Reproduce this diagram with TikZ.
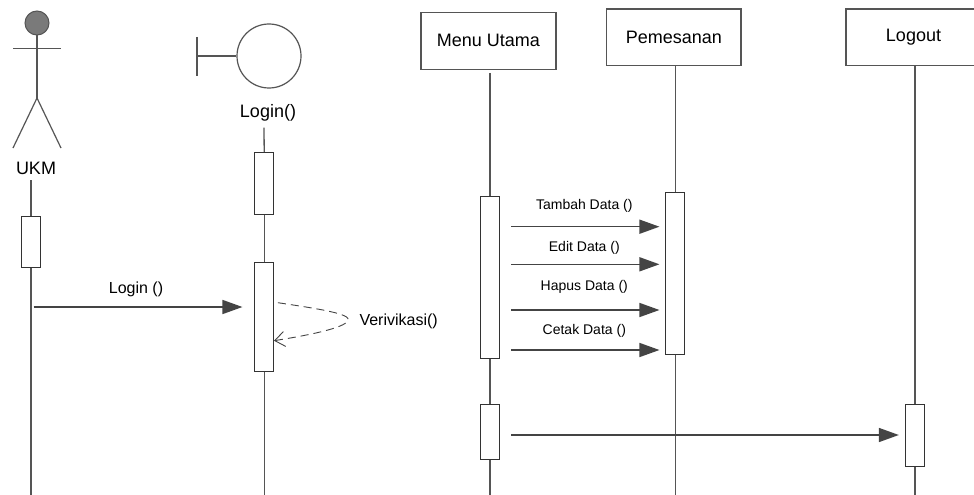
\documentclass[tikz,border=0pt]{standalone}
\usepackage{fontspec}
\setmainfont{Liberation Sans}
\usetikzlibrary{arrows.meta,calc}
\definecolor{linegray}{HTML}{555555}
\definecolor{arrowgray}{HTML}{444444}
\definecolor{headgray}{HTML}{7A7A7A}
\begin{document}
\begin{tikzpicture}[x=1pt,y=-1pt,
  big/.style={font=\fontsize{18}{20}\selectfont},
  small/.style={font=\fontsize{14}{16}\selectfont},
  objbox/.style={draw=linegray,line width=1.2pt,fill=white,rectangle,inner sep=0pt,big},
  actbox/.style={draw=black!80,line width=1pt,fill=white,rectangle,inner sep=0pt,minimum width=18.5pt},
  life/.style={draw=linegray,line width=1.3pt},
  msg/.style={draw=arrowgray,line width=1.5pt,-{Triangle[length=20pt,width=14pt]}},
  selfmsg/.style={draw=arrowgray,line width=0.9pt,dash pattern=on 8pt off 5pt,-{Straight Barb[length=10pt,width=15pt,line width=0.9pt]}},
  lbl/.style={inner sep=0pt,text=black}]
\useasboundingbox (0,0) rectangle (974,495);
\fill[white] (0,0) rectangle (974,495);

% ---- Actor UKM
\node[circle,draw=linegray,fill=headgray,line width=1pt,minimum size=24pt,inner sep=0pt] (head) at (37,23) {};
\coordinate (hip) at (37,98);
\draw[linegray,line width=1.2pt] (head.south) -- (hip);
\draw[linegray,line width=1.2pt] (13,48.5) -- (61,48.5);
\draw[linegray,line width=1.2pt] (13,148) -- (hip) -- (61,148);
\node[lbl,big] (ukm) at (36,168) {UKM};

% ---- Boundary Login()
\node[circle,draw=linegray,line width=1.2pt,minimum size=64pt,inner sep=0pt] (bnd) at (269,56) {};
\coordinate (bbar) at (197,56);
\draw[linegray,line width=1.3pt] (bbar) -- (bnd.west);
\draw[linegray,line width=1.3pt] (197,37) -- (197,76);
\node[lbl,big] (blabel) at (268,113) {Login()};

% ---- Object boxes
\node[objbox,minimum width=135pt,minimum height=57pt] (mu) at (488.5,40.8) {Menu Utama};
\node[objbox,minimum width=134.3pt,minimum height=56.7pt] (pm) at (673.9,37.3) {Pemesanan};
\node[objbox,minimum width=135pt,minimum height=56.7pt] (lo) at (913.5,37.3) {Logout};

% ---- Activation boxes
\node[actbox,minimum height=51pt] (u1) at (31,241.5) {};
\node[actbox,minimum height=61.7pt] (b1) at (264.2,183.2) {};
\node[actbox,minimum height=109pt] (b2) at (264.2,317.2) {};
\node[actbox,minimum height=162.3pt] (m1) at (490,277.8) {};
\node[actbox,minimum height=55.3pt] (m2) at (490,432.3) {};
\node[actbox,minimum height=161.7pt] (p1) at (675.2,273.2) {};
\node[actbox,minimum height=62pt] (l1) at (915,435.7) {};

% ---- Lifeline ends
\coordinate (uEnd) at (31,495);
\coordinate (bEnd) at (264.2,495);
\coordinate (mEnd) at (490,495);
\coordinate (pEnd) at (675.2,495);
\coordinate (lEnd) at (915,495);

% ---- Lifelines
\draw[life] ($(ukm.south)+(-5,6)$) -- (u1.north);
\draw[life] (u1.south) -- (uEnd);
\draw[life] ($(blabel.south)+(-4,6)$) -- (b1.north);
\draw[life] (b1.south) -- (b2.north);
\draw[life] (b2.south) -- (bEnd);
\draw[life] ($(mu.south)+(1.5,3)$) -- (m1.north);
\draw[life] (m1.south) -- (m2.north);
\draw[life] (m2.south) -- (mEnd);
\draw[life] ($(pm.south)+(1.3,0)$) -- (p1.north);
\draw[life] (p1.south) -- (pEnd);
\draw[life] ($(lo.south)+(1.5,0)$) -- (l1.north);
\draw[life] (l1.south) -- (lEnd);

% ---- Messages
\coordinate (lgs) at (33.7,307);
\draw[msg,shorten >=12pt] (lgs) -- (b2.west |- lgs);
\node[lbl,font=\fontsize{16}{18}\selectfont] (lgl) at (136,289) {Login ()};

\draw[msg,shorten <=11.4pt,shorten >=6pt] (m1.east |- 0,226.7) -- (p1.west |- 0,226.7);
\draw[msg,shorten <=11.4pt,shorten >=6pt] (m1.east |- 0,264.3) -- (p1.west |- 0,264.3);
\draw[msg,shorten <=11.4pt,shorten >=6pt] (m1.east |- 0,310) -- (p1.west |- 0,310);
\draw[msg,shorten <=11.4pt,shorten >=6pt] (m1.east |- 0,350) -- (p1.west |- 0,350);
\node[lbl,small] (t1) at (584.3,206) {Tambah Data ()};
\node[lbl,small] (t2) at (584.3,248.3) {Edit Data ()};
\node[lbl,small] (t3) at (584.3,286.7) {Hapus Data ()};
\node[lbl,small] (t4) at (584.3,330.7) {Cetak Data ()};

\draw[msg,shorten <=11.4pt,shorten >=6.4pt] (m2.east |- 0,435) -- (l1.west |- 0,435);

% ---- Self message
\coordinate (vs) at ($(b2.east)+(4,-14.5)$);
\coordinate (vm) at (348,320.7);
\coordinate (ve) at ($(b2.east)+(0,23.5)$);
\draw[selfmsg] (vs) .. controls (320,309) and (352,314) .. (vm) .. controls (344,328) and (310,335) .. (ve);
\node[lbl,font=\fontsize{16}{18}\selectfont,anchor=west] (vl) at (359.3,321.7) {Verivikasi()};
\end{tikzpicture}
\end{document}
